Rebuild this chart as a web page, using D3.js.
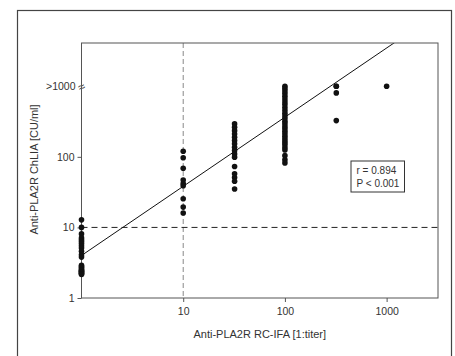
<!DOCTYPE html>
<html>
<head>
<meta charset="utf-8">
<script src="https://cdn.jsdelivr.net/npm/d3@7"></script>
<style>
  body { margin: 0; background: #fff; }
  text { font-family: "Liberation Sans", Arial, sans-serif; fill: #333; }
</style>
</head>
<body>
<div id="chart"></div>
<script>
// IFA titer groups (x) and ChLIA values (y)
const titers = [1, 10, 32, 100, 320, 1000];
const chliaNeg = [12.8, 10, 8.1, 7.1, 6.7, 6.3, 5.9, 5.5, 5.1, 4.6, 4.1, 3.8, 2.9, 2.8, 2.7, 2.6, 2.5, 2.45, 2.4, 2.35, 2.3, 2.25, 2.2, 2.15];
const chlia10 = [120, 97, 69, 47, 42, 39, 25.5, 19.4, 16];
const chlia32 = [293, 262, 235, 211, 189, 170, 153, 137, 123, 110, 99, 73, 57.5, 51, 45, 35];
const chlia100 = [1000, 930, 860, 790, 720, 660, 600, 550, 500, 455, 415, 380, 350, 320, 295, 270, 250, 230, 212, 195, 180, 168, 157, 147, 134, 125, 104, 91, 82];
const chlia320 = [1000, 1000, 805, 326];
const chlia1000 = [1000];
const xTicks = [10, 100, 1000];
const yTicks = [1, 10, 100, 1000];
const yTickLabels = ['1', '10', '100', '>1000'];
const cutoffX = 10, cutoffY = 10;
const fitIntercept = 4.0, fitSlope = 0.98;
const statLines = ['r = 0.894', 'P < 0.001'];

const W = 455, H = 356;
const margin = { top: 43, right: 17, bottom: 58, left: 81.5 };
const width = W - margin.left - margin.right;
const height = H - margin.top - margin.bottom;

const svg = d3.select('#chart').append('svg')
  .attr('width', W)
  .attr('height', H);

// outer panel frame
svg.append('rect')
  .attr('x', 17.5).attr('y', 10.5)
  .attr('width', 434).attr('height', 360)
  .attr('fill', 'none').attr('stroke', '#444').attr('stroke-width', 1.2);

const x = d3.scaleLog().domain([1, 3200]).range([0, width]);
const y = d3.scaleLog().domain([1, 4100]).range([height, 0]);

const g = svg.append('g').attr('transform', `translate(${margin.left},${margin.top})`);

g.append('clipPath').attr('id', 'clip')
  .append('rect').attr('width', width).attr('height', height);

// reference lines
g.append('line')
  .attr('x1', x(cutoffX)).attr('x2', x(cutoffX))
  .attr('y1', 0).attr('y2', height)
  .attr('stroke', '#888').attr('stroke-dasharray', '5,3');
g.append('line')
  .attr('x1', 0).attr('x2', width)
  .attr('y1', y(cutoffY)).attr('y2', y(cutoffY))
  .attr('stroke', '#222').attr('stroke-dasharray', '6,4');

// regression line
const fitXs = [1, 3200];
g.append('path')
  .datum(fitXs)
  .attr('clip-path', 'url(#clip)')
  .attr('fill', 'none').attr('stroke', '#111').attr('stroke-width', 1)
  .attr('d', d3.line()
    .x(d => x(d))
    .y(d => y(fitIntercept * Math.pow(d, fitSlope))));

// axes
const xAxis = g.append('g')
  .attr('transform', `translate(0,${height})`)
  .call(d3.axisBottom(x).tickValues(xTicks).tickFormat(d3.format('d')).tickSize(4).tickPadding(6));
const yAxis = g.append('g')
  .call(d3.axisLeft(y).tickValues(yTicks).tickFormat((d, i) => yTickLabels[i]).tickSize(4).tickPadding(3));

[xAxis, yAxis].forEach(a => {
  a.select('.domain').remove();
  a.selectAll('line').attr('stroke', '#555');
  a.selectAll('text').attr('font-size', 10.5).attr('fill', '#333')
    .style('font-family', '"Liberation Sans", Arial, sans-serif');
});

// axis break on the >1000 tick
yAxis.selectAll('.tick').filter(d => d === 1000).each(function () {
  const t = d3.select(this);
  t.select('line').remove();
  t.select('text').attr('x', -6);
  t.append('text')
    .attr('x', 0).attr('dy', '0.35em')
    .attr('text-anchor', 'middle')
    .attr('font-size', 12)
    .attr('transform', 'rotate(-25)')
    .text('≈');
});

// plot frame
g.append('rect')
  .attr('width', width).attr('height', height)
  .attr('fill', 'none').attr('stroke', '#555').attr('stroke-width', 1);

// points
const groups = [chliaNeg, chlia10, chlia32, chlia100, chlia320, chlia1000];
const pts = groups.flatMap((vals, i) => vals.map(v => ({ x: titers[i], y: v })));
g.selectAll('.pt')
  .data(pts)
  .enter().append('circle')
  .attr('class', 'pt')
  .attr('cx', d => x(d.x))
  .attr('cy', d => y(d.y))
  .attr('r', 2.8)
  .attr('fill', '#111');

// stats box
const box = g.append('g').attr('transform', `translate(${width - 87},${118})`);
box.append('rect')
  .attr('width', 53.5).attr('height', 31)
  .attr('fill', '#fff').attr('stroke', '#333').attr('stroke-width', 1);
box.selectAll('text.stat')
  .data(statLines)
  .enter().append('text')
  .attr('class', 'stat')
  .attr('x', 5.5)
  .attr('y', (d, i) => 12.5 + i * 13)
  .attr('font-size', 10)
  .text(d => d);

// axis titles
svg.append('text')
  .attr('x', margin.left + width / 2)
  .attr('y', 338)
  .attr('text-anchor', 'middle')
  .attr('font-size', 11)
  .text('Anti-PLA2R RC-IFA [1:titer]');
svg.append('text')
  .attr('transform', `translate(38,${margin.top + height / 2 - 1}) rotate(-90)`)
  .attr('text-anchor', 'middle')
  .attr('font-size', 11)
  .text('Anti-PLA2R ChLIA [CU/ml]');
</script>
</body>
</html>
